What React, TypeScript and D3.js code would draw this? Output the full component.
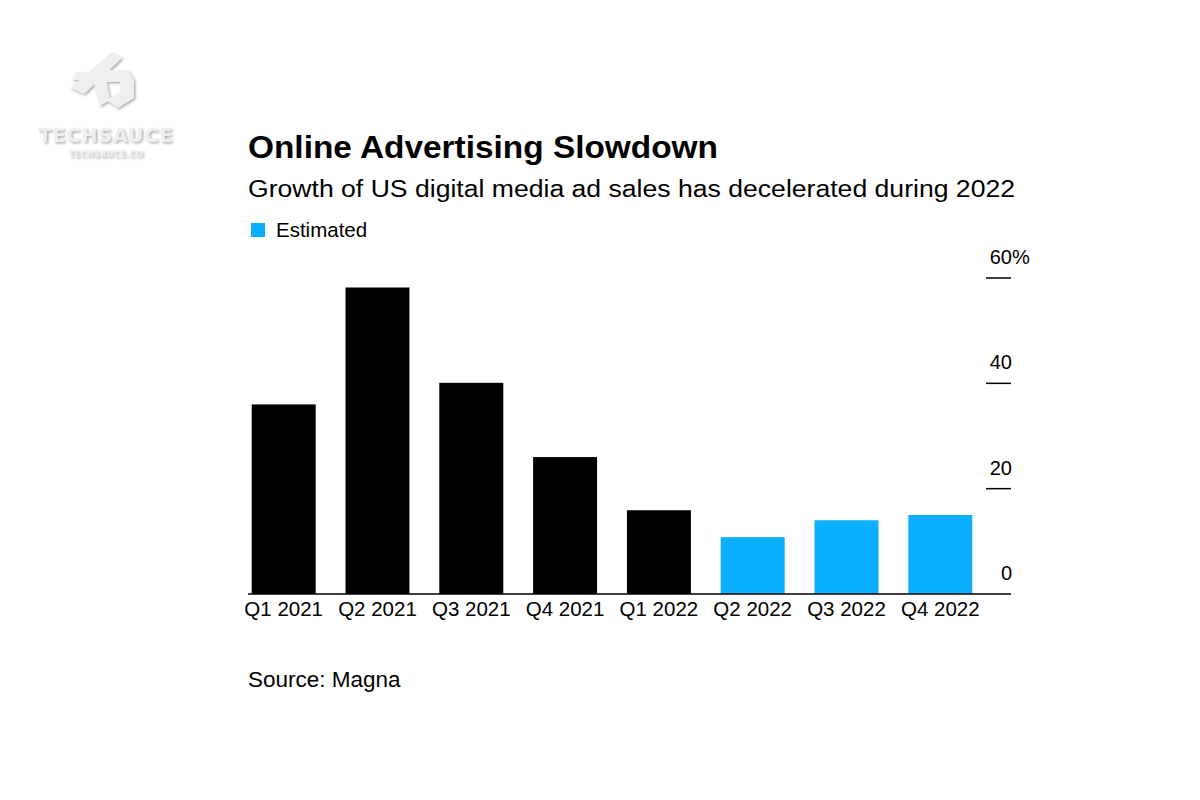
import React from "react";
import * as d3 from "d3";

const categories = ["Q1 2021", "Q2 2021", "Q3 2021", "Q4 2021", "Q1 2022", "Q2 2022", "Q3 2022", "Q4 2022"];
const growthValues = [36, 58.2, 40.1, 26, 15.9, 10.8, 14, 15];
const estimatedFlags = [false, false, false, false, false, true, true, true];
const yTicks = [0, 20, 40, 60];

const W = 1200;
const H = 800;
const FONT = "'Liberation Sans', Arial, Helvetica, sans-serif";
const BLUE = "#0aafff";

export default function App() {
  const x = d3
    .scaleBand<string>()
    .domain(categories)
    .range([236.8, 987.2])
    .paddingInner(0.318)
    .paddingOuter(0.159);
  const y = d3.scaleLinear().domain([0, 60]).range([594, 278]);

  return (
    <svg
      width={W}
      height={H}
      viewBox={`0 0 ${W} ${H}`}
      style={{ position: "absolute", left: 0, top: 0, background: "#fff" }}
      fontFamily={FONT}
    >
      <defs>
        <filter id="sh" x="-20%" y="-20%" width="140%" height="140%">
          <feDropShadow dx="1.5" dy="1.5" stdDeviation="1.2" floodColor="#9a9a9a" floodOpacity="0.8" />
        </filter>
      </defs>
      <rect x={0} y={0} width={W} height={H} fill="#fff" />

      {/* watermark logo */}
      <g filter="url(#sh)" fill="#efefef">
        <polygon points="70,88 112,52 122,58 84,94" />
        <polygon points="76,72 98,72 96,80 72,80" />
        <polygon points="92,76 104,66 110,100 100,106" />
        <polygon points="104,70 128,70 134,80 134,98 118,108 106,100 120,92 120,82 104,82" />
        <text x={106} y={142} textAnchor="middle" fontSize={19} fontWeight="bold" letterSpacing={1} fontFamily="'DejaVu Sans', sans-serif">
          TECHSAUCE
        </text>
        <text x={106} y={157} textAnchor="middle" fontSize={8} fontWeight="bold" letterSpacing={0.5} fontFamily="'DejaVu Sans', sans-serif">
          TECHSAUCE.CO
        </text>
      </g>

      {/* title */}
      <text x={248} y={158} fontSize={31} fontWeight="bold" fill="#000" textLength={470} lengthAdjust="spacingAndGlyphs">
        Online Advertising Slowdown
      </text>
      <text x={248} y={197} fontSize={23.5} fill="#000" textLength={767} lengthAdjust="spacingAndGlyphs">
        Growth of US digital media ad sales has decelerated during 2022
      </text>

      {/* legend */}
      <rect x={251} y={223} width={14} height={14} fill={BLUE} />
      <text x={276} y={237} fontSize={20.5} fill="#000">
        Estimated
      </text>

      {/* bars */}
      {categories.map((c, i) => (
        <rect
          key={c}
          x={x(c)}
          y={y(growthValues[i])}
          width={x.bandwidth()}
          height={y(0) - y(growthValues[i])}
          fill={estimatedFlags[i] ? BLUE : "#000"}
        />
      ))}

      {/* baseline */}
      <line x1={248} x2={1011} y1={y(0)} y2={y(0)} stroke="#000" strokeWidth={1.5} />

      {/* y ticks */}
      {yTicks.map((t) => (
        <g key={t}>
          {t > 0 && <line x1={986} x2={1011} y1={y(t)} y2={y(t)} stroke="#000" strokeWidth={1.5} />}
          <text x={1012} y={y(t) - 14} fontSize={20} textAnchor="end" fill="#000">
            {t}
          </text>
          {t === 60 && (
            <text x={1012} y={y(t) - 14} fontSize={20} fill="#000">
              %
            </text>
          )}
        </g>
      ))}

      {/* x labels */}
      {categories.map((c) => (
        <text key={c} x={(x(c) as number) + x.bandwidth() / 2} y={616} fontSize={20.5} textAnchor="middle" fill="#000">
          {c}
        </text>
      ))}

      {/* source */}
      <text x={248} y={687} fontSize={22.5} fill="#000">
        Source: Magna
      </text>
    </svg>
  );
}
